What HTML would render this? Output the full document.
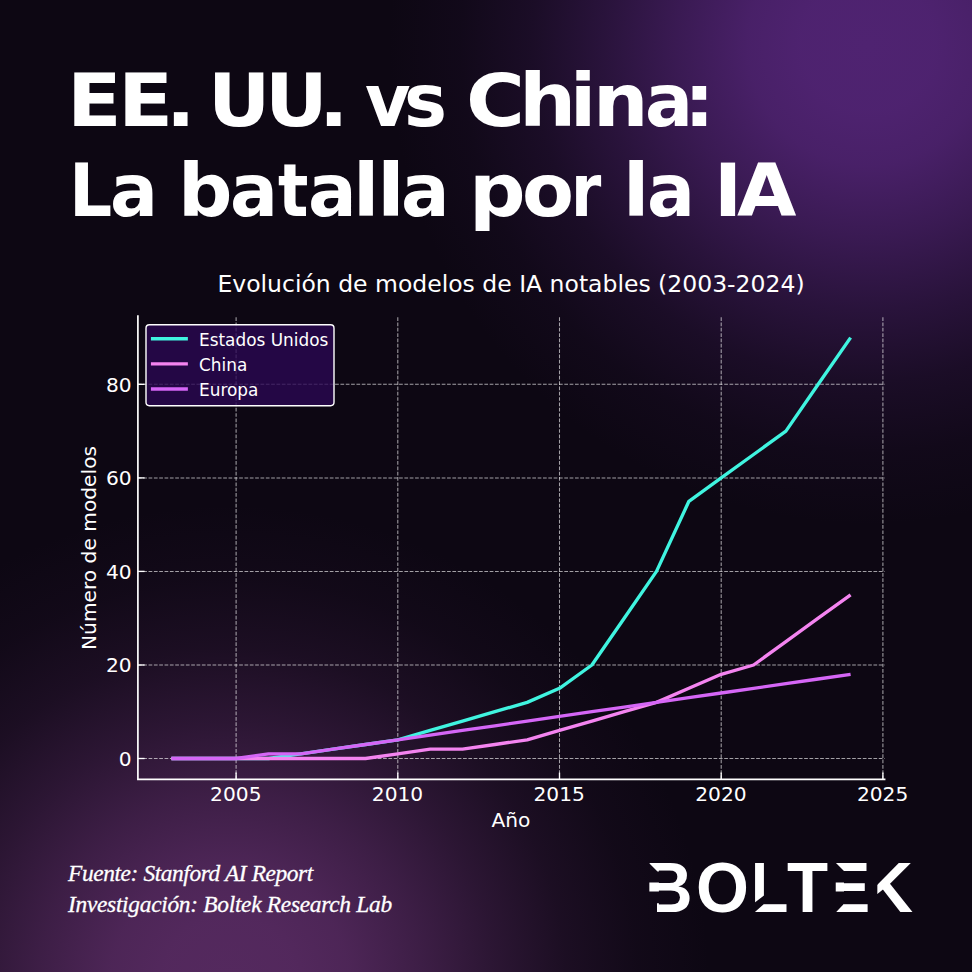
<!DOCTYPE html>
<html lang="es">
<head>
<meta charset="utf-8">
<title>EE. UU. vs China: La batalla por la IA</title>
<style>
html,body{margin:0;padding:0;}
body{width:972px;height:972px;overflow:hidden;position:relative;background:#0d0713;
  font-family:"Liberation Sans",sans-serif;color:#fff;}
#bg{position:absolute;left:0;top:0;width:972px;height:972px;
  background:
    radial-gradient(circle 480px at 868px 45px, rgba(79,35,113,1) 0%, rgba(79,35,113,0.98) 14%, rgba(79,35,113,0.9) 25%, rgba(79,35,113,0.68) 40%, rgba(79,35,113,0.43) 55%, rgba(79,35,113,0.21) 70%, rgba(79,35,113,0.07) 85%, rgba(79,35,113,0) 100%),
    radial-gradient(circle 480px at 230px 985px, rgba(84,41,94,1) 0%, rgba(84,41,94,0.98) 14%, rgba(84,41,94,0.9) 25%, rgba(84,41,94,0.68) 40%, rgba(84,41,94,0.43) 55%, rgba(84,41,94,0.21) 70%, rgba(84,41,94,0.07) 85%, rgba(84,41,94,0) 100%),
    #0d0713;}
h1{position:absolute;left:0;top:0;margin:0;width:972px;height:250px;font-family:"DejaVu Sans","Liberation Sans",sans-serif;
  font-weight:bold;font-size:72.6px;line-height:90px;white-space:nowrap;}
h1 div{position:absolute;left:0;margin:0;white-space:pre;}
h1 span{position:relative;display:inline-block;transform-origin:0 50%;}
svg{position:absolute;left:0;top:0;overflow:visible;}
.dj{font-family:"DejaVu Sans","Liberation Sans",sans-serif;fill:#fff;}
#logo{position:absolute;left:0;top:0;width:972px;height:972px;clip-path:path(evenodd,"M600 840H960V940H600ZM648 862L657.5 871.5H659.5V882.5H648ZM648 891.5H659.5V903.3H657V913H648ZM753.5 903.6L764 895.5V903.9L754 912.8ZM835 862L844.5 871.5H845.5V882.5H835ZM835 891.5H845.5V903.3H844.5L835 913.3Z");}
#lw{position:absolute;left:0;top:848.4px;white-space:pre;font-family:"Liberation Sans",sans-serif;font-weight:bold;font-size:71px;line-height:80px;color:#fff;}
#lw span{position:relative;display:inline-block;transform-origin:0 50%;}
#foot{position:absolute;left:68px;top:858.2px;font-family:"Liberation Serif",serif;font-style:italic;
  font-size:23.4px;line-height:30.9px;-webkit-text-stroke:0.3px #fff;white-space:nowrap;}
#f1{letter-spacing:-0.40px;}
#f2{letter-spacing:-0.29px;}
</style>
</head>
<body>
<div id="bg"></div>
<h1><div style="top:55.7px"><span style="left:67.3px;transform:scaleX(1.103)">E</span><span style="left:68.7px;transform:scaleX(1.113)">E</span><span style="left:66.8px;transform:scaleX(1.065)">.</span> <span style="left:56.4px;transform:scaleX(1.058)">U</span><span style="left:54.2px;transform:scaleX(1.064)">U</span><span style="left:49.1px;transform:scaleX(1.065)">.</span> <span style="left:42.0px;transform:scaleX(0.963)">v</span><span style="left:33.7px;transform:scaleX(0.996)">s</span> <span style="left:27.4px;transform:scaleX(1.106)">C</span><span style="left:26.9px;transform:scaleX(1.107)">h</span><span style="left:26.4px;transform:scaleX(1.051)">i</span><span style="left:24.1px;transform:scaleX(1.073)">n</span><span style="left:24.5px;transform:scaleX(0.979)">a</span><span style="left:15.3px;transform:scaleX(1.058)">:</span></div><div style="top:146.0px"><span style="left:68.6px;transform:scaleX(0.934)">L</span><span style="left:63.6px;transform:scaleX(0.979)">a</span> <span style="left:57.0px;transform:scaleX(1.049)">b</span><span style="left:57.8px;transform:scaleX(0.979)">a</span><span style="left:56.5px;transform:scaleX(0.876)">t</span><span style="left:52.0px;transform:scaleX(0.994)">a</span><span style="left:47.9px;transform:scaleX(1.058)">l</span><span style="left:46.8px;transform:scaleX(1.117)">l</span><span style="left:46.1px;transform:scaleX(0.991)">a</span> <span style="left:39.3px;transform:scaleX(1.090)">p</span><span style="left:40.4px;transform:scaleX(1.042)">o</span><span style="left:39.7px;transform:scaleX(0.846)">r</span> <span style="left:30.9px;transform:scaleX(1.058)">l</span><span style="left:29.9px;transform:scaleX(0.979)">a</span> <span style="left:23.1px;transform:scaleX(1.038)">I</span><span style="left:19.0px;transform:scaleX(1.058)">A</span></div></h1>
<svg id="chart" width="972" height="972" viewBox="0 0 972 972">
<g stroke="#fff" stroke-opacity="0.62" stroke-width="1.05" stroke-dasharray="3.72 1.61" fill="none">
<line x1="236.1" y1="779.3" x2="236.1" y2="316.0"/>
<line x1="397.8" y1="779.3" x2="397.8" y2="316.0"/>
<line x1="559.5" y1="779.3" x2="559.5" y2="316.0"/>
<line x1="721.2" y1="779.3" x2="721.2" y2="316.0"/>
<line x1="882.9" y1="779.3" x2="882.9" y2="316.0"/>
<line x1="137.9" y1="758.5" x2="884.6" y2="758.5"/>
<line x1="137.9" y1="665.0" x2="884.6" y2="665.0"/>
<line x1="137.9" y1="571.4" x2="884.6" y2="571.4"/>
<line x1="137.9" y1="477.9" x2="884.6" y2="477.9"/>
<line x1="137.9" y1="384.3" x2="884.6" y2="384.3"/>
</g>
<g fill="none" stroke-width="3.35" stroke-linejoin="round" stroke-linecap="butt">
<polyline stroke="#40f4e0" points="171.4,758.5 203.8,758.5 236.1,758.5 268.5,758.5 300.8,753.8 333.1,749.1 365.5,744.5 397.8,739.8 430.2,730.4 462.5,721.1 494.9,711.7 527.2,702.4 559.5,688.3 591.9,665.0 624.2,618.2 656.5,571.4 688.9,501.3 721.2,477.9 753.6,454.5 785.9,431.1 818.2,384.3 850.6,337.6"/>
<polyline stroke="#f484f0" points="171.4,758.5 203.8,758.5 236.1,758.5 268.5,758.5 300.8,758.5 333.1,758.5 365.5,758.5 397.8,753.8 430.2,749.1 462.5,749.1 494.9,744.5 527.2,739.8 559.5,730.4 591.9,721.1 624.2,711.7 656.5,702.4 688.9,688.3 721.2,674.3 753.6,665.0 785.9,641.6 818.2,618.2 850.6,594.8"/>
<polyline stroke="#d566f6" points="171.4,758.5 203.8,758.5 236.1,758.5 268.5,753.8 300.8,753.8 333.1,749.1 365.5,744.5 397.8,739.8 430.2,735.1 462.5,730.4 494.9,725.8 527.2,721.1 559.5,716.4 591.9,711.7 624.2,707.1 656.5,702.4 688.9,697.7 721.2,693.0 753.6,688.3 785.9,683.7 818.2,679.0 850.6,674.3"/>
</g>
<g stroke="#fff" fill="none">
<path stroke-width="1.7" stroke-linecap="square" d="M137.9 316.0V779.3H884.6"/>
<g stroke-width="1.35">
<line x1="236.1" y1="779.3" x2="236.1" y2="772.6"/>
<line x1="397.8" y1="779.3" x2="397.8" y2="772.6"/>
<line x1="559.5" y1="779.3" x2="559.5" y2="772.6"/>
<line x1="721.2" y1="779.3" x2="721.2" y2="772.6"/>
<line x1="882.9" y1="779.3" x2="882.9" y2="772.6"/>
<line x1="137.9" y1="758.5" x2="144.6" y2="758.5"/>
<line x1="137.9" y1="665.0" x2="144.6" y2="665.0"/>
<line x1="137.9" y1="571.4" x2="144.6" y2="571.4"/>
<line x1="137.9" y1="477.9" x2="144.6" y2="477.9"/>
<line x1="137.9" y1="384.3" x2="144.6" y2="384.3"/>
</g></g>
<g class="dj" font-size="20.2">
<text x="235.8" y="800.7" text-anchor="middle">2005</text>
<text x="397.5" y="800.7" text-anchor="middle">2010</text>
<text x="559.2" y="800.7" text-anchor="middle">2015</text>
<text x="720.9" y="800.7" text-anchor="middle">2020</text>
<text x="882.6" y="800.7" text-anchor="middle">2025</text>
<text x="131.6" y="765.9" text-anchor="end">0</text>
<text x="131.6" y="672.4" text-anchor="end">20</text>
<text x="131.6" y="578.8" text-anchor="end">40</text>
<text x="131.6" y="485.3" text-anchor="end">60</text>
<text x="131.6" y="391.7" text-anchor="end">80</text>
<text x="511" y="826.6" text-anchor="middle">Año</text>
<text transform="translate(96.3 548) rotate(-90)" text-anchor="middle">Número de modelos</text>
</g>
<text class="dj" font-size="23.5" x="511" y="291.6" text-anchor="middle">Evolución de modelos de IA notables (2003-2024)</text>
<rect x="146" y="324.8" width="188" height="80.9" rx="3.4" fill="#2a0852" fill-opacity="0.8" stroke="#fff" stroke-width="1.4"/>
<g stroke-width="3.35" stroke-linecap="square">
<line x1="152.6" x2="186.2" y1="338.7" y2="338.7" stroke="#40f4e0"/>
<line x1="152.6" x2="186.2" y1="363.8" y2="363.8" stroke="#f484f0"/>
<line x1="152.6" x2="186.2" y1="389.0" y2="389.0" stroke="#d566f6"/>
</g>
<g class="dj" font-size="16.9">
<text x="199.0" y="345.5">Estados Unidos</text>
<text x="199.0" y="370.7">China</text>
<text x="199.0" y="395.9">Europa</text>
</g>
</svg>
<div id="logo"><div id="lw"><span style="left:644.92px;transform:scaleX(0.9270)">B</span><span style="left:644.53px;transform:scaleX(0.9579)">O</span><span style="left:644.21px;transform:scaleX(0.8604)">L</span><span style="left:637.12px;transform:scaleX(0.9459)">T</span><span style="left:639.23px;transform:scaleX(0.7979)">E</span><span style="left:621.25px;transform:scaleX(0.9958);clip-path:inset(0 0 0 15.4px)">K</span></div></div>
<div id="foot"><div id="f1">Fuente: Stanford AI Report</div><div id="f2">Investigación: Boltek Research Lab</div></div>
</body>
</html>
